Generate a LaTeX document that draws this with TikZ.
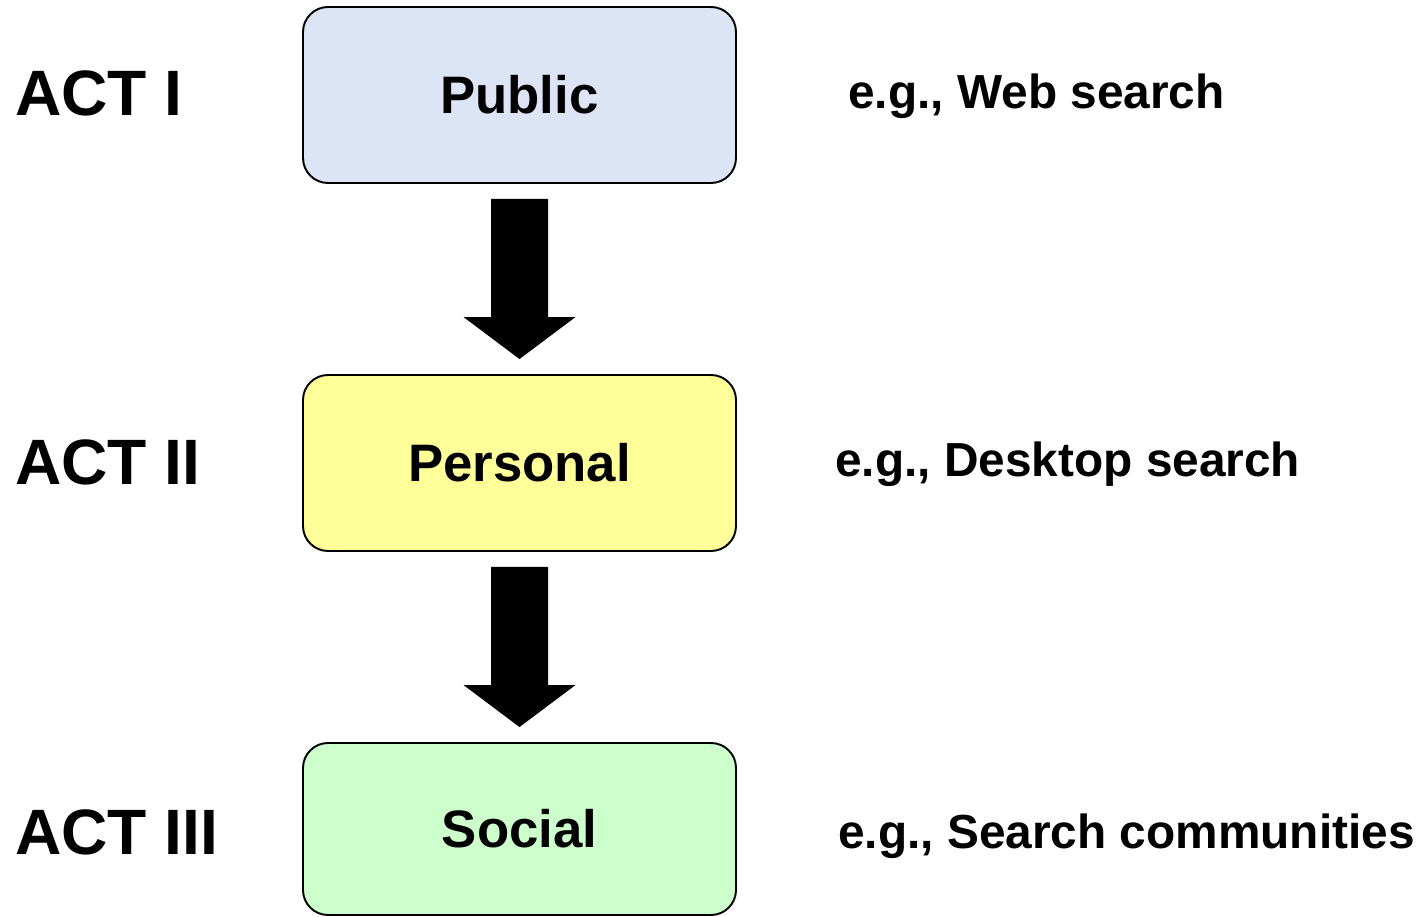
\documentclass[tikz,border=0pt]{standalone}
\usepackage{fontspec}
\setmainfont{Liberation Sans}
\usepackage{tikz}
\usetikzlibrary{calc}
\usetikzlibrary{positioning}
\definecolor{pubblue}{RGB}{220, 228, 246}
\definecolor{peryellow}{RGB}{255, 255, 153}
\definecolor{socgreen}{RGB}{204, 255, 204}
\tikzset{stage/.style = {draw, line width=1.1pt, rounded corners=0.5cm,
                         minimum width=8.66cm, minimum height=3.52cm,
                         font=\fontsize{30}{30}\selectfont\bfseries},
         actlabel/.style = {anchor=base west, inner sep=0pt,
                            font=\fontsize{36.5}{36.5}\selectfont\bfseries},
         example/.style = {anchor=base west, inner sep=0pt,
                           font=\fontsize{27.2}{27.2}\selectfont\bfseries}}
\newcommand{\stagearrow}[2]{%
  \fill ($(#1.south)+(-0.57,-0.3)$) -- ++(1.14,0)
        -- ($(#2.north)+(0.57,1.14)$) -- ++(0.55,0)
        -- ($(#2.north)+(0,0.3)$)
        -- ($(#2.north)+(-1.12,1.14)$) -- ++(0.55,0) -- cycle;}

\begin{document}
\begin{tikzpicture}
      \useasboundingbox (0, 0) rectangle (28.48, -18.34);
      \node [stage, fill=pubblue] (public) at (10.39, -1.9) {Public};
      \node [stage, fill=peryellow] (personal) at (10.39, -9.26) {Personal};
      \node [stage, fill=socgreen, minimum height=3.44cm] (social) at (10.39, -16.58) {Social};
      \stagearrow{public}{personal}
      \stagearrow{personal}{social}
      \node [actlabel] (act1) at (0.3, -2.32) {ACT I};
      \node [actlabel] (act2) at (0.3, -9.7) {ACT II};
      \node [actlabel] (act3) at (0.3, -17.08) {ACT III};
      \node [example] (ex1) at (16.96, -2.18) {e.g., Web search};
      \node [example] (ex2) at (16.7, -9.54) {e.g., Desktop search};
      \node [example] (ex3) at (16.76, -16.96) {e.g., Search communities};
    \end{tikzpicture}
\end{document}
